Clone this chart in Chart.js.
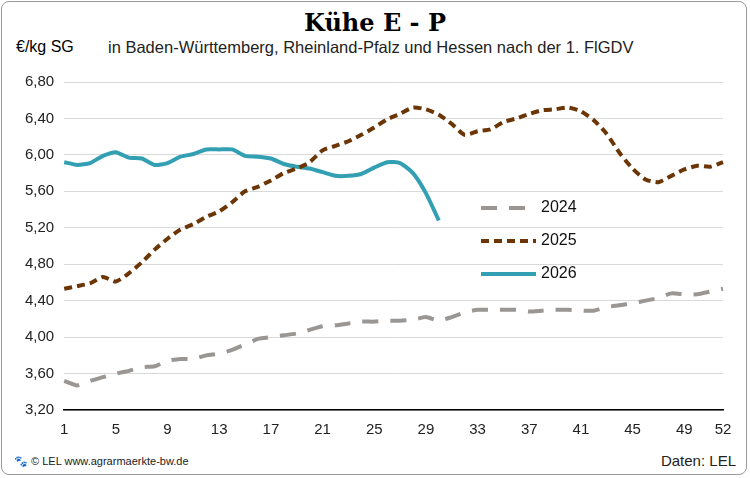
<!DOCTYPE html>
<html><head><meta charset="utf-8">
<script src="https://cdn.jsdelivr.net/npm/chart.js@4"></script>
<style>
body{margin:0;background:#fff;font-family:"Liberation Sans",Arial,sans-serif;}
#wrap{position:relative;width:750px;height:478px;}
#frame{position:absolute;left:1px;top:1px;width:746px;height:474px;border:1px solid #9a9a9a;border-radius:8px;box-sizing:border-box;}
#title{position:absolute;top:8px;width:750px;text-align:center;font-family:"DejaVu Serif","Liberation Serif",serif;font-weight:bold;font-size:24px;}
#unit{position:absolute;left:16px;top:38px;font-size:16px;}
#sub{position:absolute;left:108px;top:38px;font-size:16.5px;color:#222;}
#foot{position:absolute;left:14px;top:455px;font-size:11px;color:#222;}
#src{position:absolute;right:14px;top:452px;font-size:15px;color:#222;}
canvas{position:absolute;left:0;top:0;}
</style></head><body>
<div id="wrap">
<div id="frame"></div>
<div id="title">Kühe E - P</div>
<div id="unit">€/kg SG</div>
<div id="sub">in Baden-Württemberg, Rheinland-Pfalz und Hessen nach der 1. FlGDV</div>
<div id="foot">🐾 © LEL www.agrarmaerkte-bw.de</div>
<div id="src">Daten: LEL</div>
<canvas id="c" width="750" height="478"></canvas>
</div>
<script>
// Wochen 1..52
const weeks = Array.from({length: 52}, (_, i) => String(i + 1));
const yTicks = [3.2, 3.6, 4.0, 4.4, 4.8, 5.2, 5.6, 6.0, 6.4, 6.8];

const y2024 = [3.52,3.47,3.52,3.56,3.60,3.63,3.67,3.68,3.74,3.76,3.76,3.80,3.82,3.86,3.92,3.98,4.00,4.02,4.04,4.08,
  4.12,4.13,4.15,4.17,4.17,4.18,4.18,4.19,4.22,4.18,4.22,4.27,4.30,4.30,4.30,4.30,4.28,4.29,4.30,4.30,
  4.29,4.29,4.33,4.35,4.37,4.40,4.43,4.48,4.47,4.47,4.50,4.53];
const y2025 = [4.53,4.56,4.59,4.66,4.61,4.70,4.82,4.96,5.08,5.18,5.24,5.32,5.38,5.48,5.60,5.65,5.72,5.80,5.85,5.92,
  6.05,6.10,6.15,6.22,6.30,6.39,6.45,6.52,6.50,6.44,6.34,6.22,6.26,6.28,6.36,6.40,6.45,6.49,6.50,6.52,
  6.48,6.38,6.23,6.02,5.85,5.73,5.70,5.77,5.84,5.88,5.87,5.92];
const y2026 = [5.92,5.89,5.91,5.99,6.03,5.97,5.96,5.89,5.91,5.98,6.01,6.06,6.06,6.06,5.99,5.98,5.96,5.90,5.87,5.85,
  5.81,5.77,5.77,5.79,5.86,5.92,5.91,5.80,5.58,5.28];

const series = [
  {label: '2024', data: y2024, color: '#999694', dash: [16, 12]},
  {label: '2025', data: y2025, color: '#6b3506', dash: [8, 5]},
  {label: '2026', data: y2026, color: '#339fb3', dash: []}
];

// Legende im Diagramm
const legendPlugin = {
  id: 'inlineLegend',
  afterDraw(chart) {
    const ctx = chart.ctx;
    ctx.save();
    series.forEach((s, i) => {
      const y = 208 + i * 33;
      ctx.strokeStyle = s.color;
      ctx.lineWidth = 4;
      ctx.setLineDash(s.dash);
      ctx.beginPath(); ctx.moveTo(481, y); ctx.lineTo(536, y); ctx.stroke();
      ctx.setLineDash([]);
      ctx.fillStyle = '#111';
      ctx.font = '16px "Liberation Sans", Arial, sans-serif';
      ctx.textBaseline = 'middle';
      ctx.fillText(s.label, 541, y);
    });
    ctx.restore();
  }
};

new Chart(document.getElementById('c'), {
  type: 'line',
  data: {
    labels: weeks,
    datasets: series.map(s => ({
      label: s.label, data: s.data, borderColor: s.color, borderWidth: 4,
      borderDash: s.dash, pointRadius: 0, tension: 0.2, fill: false
    }))
  },
  options: {
    responsive: false, animation: false,
    layout: {padding: {top: 82, left: 15, right: 27, bottom: 36}},
    plugins: {legend: {display: false}, tooltip: {enabled: false}},
    scales: {
      x: {
        offset: false,
        grid: {display: false},
        border: {color: '#000', width: 1.5},
        ticks: {
          autoSkip: false, maxRotation: 0, color: '#222',
          font: {size: 15, family: '"Liberation Sans", Arial, sans-serif'},
          callback: (v, i) => (i % 4 === 0 || i === 51) ? weeks[i] : ''
        }
      },
      y: {
        min: yTicks[0], max: yTicks[yTicks.length - 1],
        afterBuildTicks: ax => { ax.ticks = yTicks.map(v => ({value: v})); },
        grid: {color: '#d9d9d9', lineWidth: 1, drawTicks: false},
        border: {display: false},
        ticks: {
          padding: 10, color: '#222',
          font: {size: 15, family: '"Liberation Sans", Arial, sans-serif'},
          callback: v => v.toFixed(2).replace('.', ',')
        }
      }
    }
  },
  plugins: [legendPlugin]
});
</script>
</body></html>
